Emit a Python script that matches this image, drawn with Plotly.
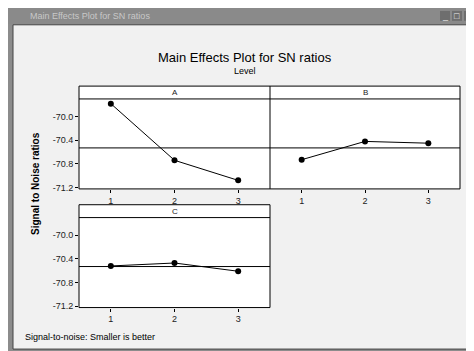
import plotly.graph_objects as go

levels = [1, 2, 3]
factor_names = ["A", "B", "C"]
sn_A = [-69.78, -70.74, -71.08]
sn_B = [-70.73, -70.42, -70.45]
sn_C = [-70.52, -70.47, -70.61]
grand_mean = -70.53
ytick_vals = [-70.0, -70.4, -70.8, -71.2]
ytick_text = ["-70.0", "-70.4", "-70.8", "-71.2"]

W, H = 474, 351
def px(x):
    return x / W
def py(y):
    return 1 - y / H

FONT = "Liberation Sans, Arial, sans-serif"
fig = go.Figure()

panels = [
    ("A", "x", "y", 71, 262, 79, 92, 183, True, True),
    ("B", "x2", "y2", 262, 452, 79, 92, 183, False, False),
    ("C", "x3", "y3", 71, 262, 199, 212, 303, True, True),
]
series = {"A": sn_A, "B": sn_B, "C": sn_C}

shapes = []
annotations = []

# window frame
shapes.append(dict(type="rect", xref="paper", yref="paper", x0=0, x1=1, y0=0, y1=1,
                   fillcolor="#8c8c8c", line=dict(width=0), layer="below"))
shapes.append(dict(type="rect", xref="paper", yref="paper", x0=px(5), x1=px(469), y0=py(345), y1=py(17),
                   fillcolor="#f1f1f1", line=dict(color="#444444", width=1), layer="below"))
shapes.append(dict(type="rect", xref="paper", yref="paper", x0=0, x1=1, y0=py(16), y1=1,
                   fillcolor="#8a8a8a", line=dict(width=0), layer="below"))
annotations.append(dict(text="Main Effects Plot for SN ratios", xref="paper", yref="paper",
                        x=px(20), y=py(8), xanchor="left", yanchor="middle", showarrow=False,
                        font=dict(family=FONT, size=9, color="#c8c8c8")))
for k, sym in enumerate(["_", "\u25a1", "x"]):
    cx = 437 + k * 12
    shapes.append(dict(type="rect", xref="paper", yref="paper", x0=px(cx - 5), x1=px(cx + 5),
                       y0=py(13), y1=py(3), fillcolor="#6e6e6e", line=dict(width=0), layer="below"))
    annotations.append(dict(text=sym, xref="paper", yref="paper", x=px(cx), y=py(8),
                            xanchor="center", yanchor="middle", showarrow=False,
                            font=dict(family=FONT, size=9, color="#eeeeee")))

for i, (name, xa, ya, x0, x1, yt, ys, yb, showy, leftline) in enumerate(panels):
    fig.add_trace(go.Scatter(x=levels, y=series[name], xaxis=xa, yaxis=ya, mode="lines+markers",
                             line=dict(color="black", width=1),
                             marker=dict(color="black", size=6), showlegend=False))
    fig.add_trace(go.Scatter(x=[0.5, 3.5], y=[grand_mean, grand_mean], xaxis=xa, yaxis=ya, mode="lines",
                             line=dict(color="black", width=1), showlegend=False, hoverinfo="skip"))
    suffix = "" if i == 0 else str(i + 1)
    fig.layout["xaxis" + suffix] = dict(domain=[px(x0), px(x1)], range=[0.5, 3.5],
                                        tickvals=levels, ticktext=[str(v) for v in levels],
                                        ticks="outside", ticklen=3, tickcolor="black",
                                        showgrid=False, zeroline=False, showline=False,
                                        tickfont=dict(family=FONT, size=9, color="#222222"),
                                        anchor=ya, fixedrange=True)
    fig.layout["yaxis" + suffix] = dict(domain=[py(yb), py(ys)], range=[-71.225, -69.70],
                                        tickvals=ytick_vals if showy else [],
                                        ticktext=ytick_text if showy else [],
                                        ticks="outside" if showy else "", ticklen=3, tickcolor="black",
                                        showgrid=False, zeroline=False, showline=False,
                                        tickfont=dict(family=FONT, size=9, color="#222222"),
                                        anchor=xa, fixedrange=True)
    shapes.append(dict(type="rect", xref="paper", yref="paper", x0=px(x0), x1=px(x1), y0=py(yb), y1=py(yt),
                       fillcolor="white", line=dict(width=0), layer="below"))
    edges = [(x0, yt, x1, yt), (x1, yt, x1, yb), (x0, yb, x1, yb), (x0, ys, x1, ys)]
    if leftline:
        edges.append((x0, yt, x0, yb))
    for (ax0, ay0, ax1, ay1) in edges:
        shapes.append(dict(type="line", xref="paper", yref="paper", x0=px(ax0), x1=px(ax1),
                           y0=py(ay0), y1=py(ay1), line=dict(color="black", width=1), layer="above"))
    annotations.append(dict(text=name, xref="paper", yref="paper", x=px((x0 + x1) / 2), y=py((yt + ys) / 2),
                            xanchor="center", yanchor="middle", showarrow=False,
                            font=dict(family=FONT, size=8, color="#222222")))

annotations.append(dict(text="Main Effects Plot for SN ratios", xref="paper", yref="paper",
                        x=0.5, y=py(50), xanchor="center", yanchor="middle", showarrow=False,
                        font=dict(family=FONT, size=13, color="black")))
annotations.append(dict(text="Level", xref="paper", yref="paper",
                        x=0.5, y=py(64), xanchor="center", yanchor="middle", showarrow=False,
                        font=dict(family=FONT, size=9, color="black")))
annotations.append(dict(text="<b>Signal to Noise ratios</b>", xref="paper", yref="paper",
                        x=px(28), y=py(178), xanchor="center", yanchor="middle", textangle=-90,
                        showarrow=False, font=dict(family=FONT, size=10, color="black")))
annotations.append(dict(text="Signal-to-noise: Smaller is better", xref="paper", yref="paper",
                        x=px(15), y=py(333), xanchor="left", yanchor="middle", showarrow=False,
                        font=dict(family=FONT, size=9, color="black")))

fig.update_layout(width=W, height=H, margin=dict(l=0, r=0, t=0, b=0),
                  paper_bgcolor="#f1f1f1", plot_bgcolor="rgba(0,0,0,0)",
                  shapes=shapes, annotations=annotations, showlegend=False)
fig.write_html("out.html")
